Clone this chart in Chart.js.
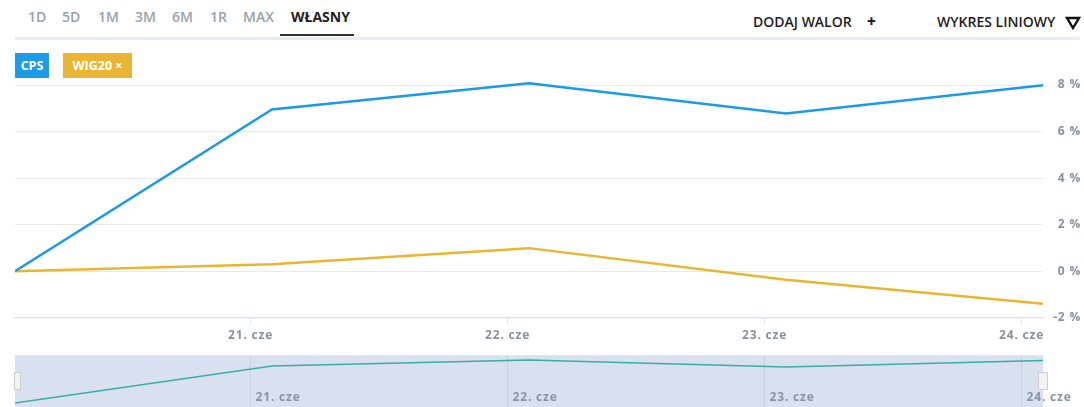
<!DOCTYPE html>
<html>
<head>
<meta charset="utf-8">
<script src="https://cdn.jsdelivr.net/npm/chart.js@4/dist/chart.umd.min.js"></script>
<style>
  html, body { margin: 0; padding: 0; background: #fff; }
  body { width: 1084px; height: 407px; position: relative; overflow: hidden; font-family: "Open Sans", sans-serif; }
  .abs { position: absolute; white-space: nowrap; }
  .tab { font-size: 14px; line-height: 16px; top: 9px; color: #9aa1a9; font-weight: 600; }
  .tab.active { color: #222; font-weight: 700; }
  .rt { font-size: 14px; line-height: 16px; top: 14px; color: #1e1e1e; font-weight: 600; }
  .badge { top: 53px; height: 25px; line-height: 25px; color: #fff; font-size: 12.5px; font-weight: 700; text-align: center; }
  .handle { top: 372px; height: 18px; background: #f2f2f2; border: 1px solid #cfcfcf; box-sizing: border-box; }
  #main { position: absolute; left: 0; top: 0; }
  #nav { position: absolute; left: 0; top: 355px; }
</style>
</head>
<body>
<div class="abs tab" style="left:28px">1D</div>
<div class="abs tab" style="left:62px">5D</div>
<div class="abs tab" style="left:98px">1M</div>
<div class="abs tab" style="left:135px">3M</div>
<div class="abs tab" style="left:172px">6M</div>
<div class="abs tab" style="left:210px">1R</div>
<div class="abs tab" style="left:243px">MAX</div>
<div class="abs tab active" style="left:291px">WŁASNY</div>
<div class="abs" style="left:280px;top:34px;width:74px;height:2px;background:#333"></div>
<div class="abs" style="left:15px;top:37px;width:1065px;height:3px;background:#e8edf4"></div>

<div class="abs rt" style="left:753px">DODAJ WALOR</div>
<div class="abs rt" style="left:867px;font-weight:800;font-size:15px;top:13px">+</div>
<div class="abs rt" style="left:937px">WYKRES LINIOWY</div>
<svg class="abs" style="left:1065px;top:16px" width="16" height="14" viewBox="0 0 16 14">
  <polygon points="2,2 14,2 8,12" fill="none" stroke="#111" stroke-width="2.4" stroke-linejoin="miter"/>
</svg>

<canvas id="main" width="1084" height="355"></canvas>
<canvas id="nav" width="1084" height="52"></canvas>

<div class="abs badge" style="left:15px;width:34px;background:#1b9be8">CPS</div>
<div class="abs badge" style="left:63px;width:69px;background:#ebb534">WIG20 ×</div>

<div class="abs handle" style="left:14px;width:7px"></div>
<div class="abs handle" style="left:1038px;width:10px"></div>

<script>
// x positions: hours since 20 cze 00:00
const HOURS = [2, 26, 50, 74, 98];
const CPS = [0, 6.95, 8.08, 6.78, 7.99];
const WIG20 = [0, 0.30, 0.99, -0.37, -1.40];
const TICK_HOURS = [24, 48, 72, 96];
const TICK_LABELS = ['21. cze', '22. cze', '23. cze', '24. cze'];
const Y_TICKS = [-2, 0, 2, 4, 6, 8];

const toPts = (ys) => HOURS.map((h, i) => ({ x: h, y: ys[i] }));
const FONT = { family: '"Open Sans", sans-serif', size: 12, weight: 'bold' };
const LABEL_COLOR = '#8a9198';

const xTicks = (scale) => { scale.ticks = TICK_HOURS.map(v => ({ value: v })); };
const xLabel = (v) => { const i = TICK_HOURS.indexOf(v); return i >= 0 ? TICK_LABELS[i] : ''; };

const spacing = {
  id: 'spacing',
  beforeDraw(chart) { chart.ctx.letterSpacing = '0.8px'; }
};

new Chart(document.getElementById('main'), {
  type: 'line',
  data: {
    datasets: [
      { label: 'CPS', data: toPts(CPS), borderColor: '#1a9ae9', borderWidth: 2.5, pointRadius: 0, tension: 0 },
      { label: 'WIG20', data: toPts(WIG20), borderColor: '#ecb52f', borderWidth: 2.5, pointRadius: 0, tension: 0 }
    ]
  },
  options: {
    responsive: false, animation: false, events: [],
    layout: { padding: { top: 38.5, left: 15, right: 3, bottom: 0 } },
    plugins: { legend: { display: false }, tooltip: { enabled: false } },
    scales: {
      x: {
        type: 'linear', min: HOURS[0], max: HOURS[HOURS.length - 1],
        afterBuildTicks: xTicks,
        afterFit: (s) => { s.height = 37.3; },
        ticks: { callback: xLabel, font: FONT, color: LABEL_COLOR, padding: 5, maxRotation: 0, autoSkip: false },
        grid: { drawOnChartArea: false, drawTicks: true, tickLength: 6, color: '#dfe5ef' },
        border: { display: true, color: '#dde3ef', width: 1.5 }
      },
      y: {
        position: 'right', min: -2, max: 10,
        afterBuildTicks: (s) => { s.ticks = Y_TICKS.map(v => ({ value: v })); },
        afterFit: (s) => { s.width = 38; },
        ticks: { callback: (v) => v + ' %', font: FONT, color: LABEL_COLOR, crossAlign: 'far', padding: 11 },
        grid: { color: '#e9e9e9', drawTicks: false, lineWidth: 1 },
        border: { display: false }
      }
    }
  },
  plugins: [spacing]
});

const navBg = {
  id: 'navBg',
  beforeDraw(chart) {
    const { ctx, chartArea: a } = chart;
    ctx.save();
    ctx.fillStyle = '#d9e0ef';
    ctx.fillRect(a.left, a.top, a.right - a.left, a.bottom - a.top);
    ctx.fillStyle = '#e3e6ec';
    ctx.fillRect(a.left, a.top, a.right - a.left, 1);
    ctx.restore();
  },
  afterDraw(chart) {
    const { ctx } = chart;
    const sx = chart.scales.x;
    ctx.save();
    ctx.letterSpacing = '0.8px';
    ctx.font = 'bold 12px "Open Sans", sans-serif';
    ctx.fillStyle = '#8a93a3';
    ctx.textBaseline = 'middle';
    ctx.textAlign = 'left';
    sx.ticks.forEach((t) => {
      ctx.fillText(xLabel(t.value), sx.getPixelForValue(t.value) + 5, 43);
    });
    ctx.restore();
  }
};

new Chart(document.getElementById('nav'), {
  type: 'line',
  data: {
    datasets: [
      { label: 'CPS', data: toPts(CPS), borderColor: '#35b0a2', borderWidth: 1.5, pointRadius: 0, tension: 0 }
    ]
  },
  options: {
    responsive: false, animation: false, events: [],
    layout: { padding: { top: 0, left: 15, right: 41, bottom: 0 } },
    plugins: { legend: { display: false }, tooltip: { enabled: false } },
    scales: {
      x: {
        type: 'linear', min: HOURS[0], max: HOURS[HOURS.length - 1],
        afterBuildTicks: xTicks,
        afterFit: (s) => { s.height = 0; },
        ticks: { display: false },
        grid: { drawTicks: false, color: '#c9d0e0', lineWidth: 1 },
        border: { display: false }
      },
      y: { display: false, min: -0.75, max: 9.03 }
    }
  },
  plugins: [navBg]
});
</script>
</body>
</html>
